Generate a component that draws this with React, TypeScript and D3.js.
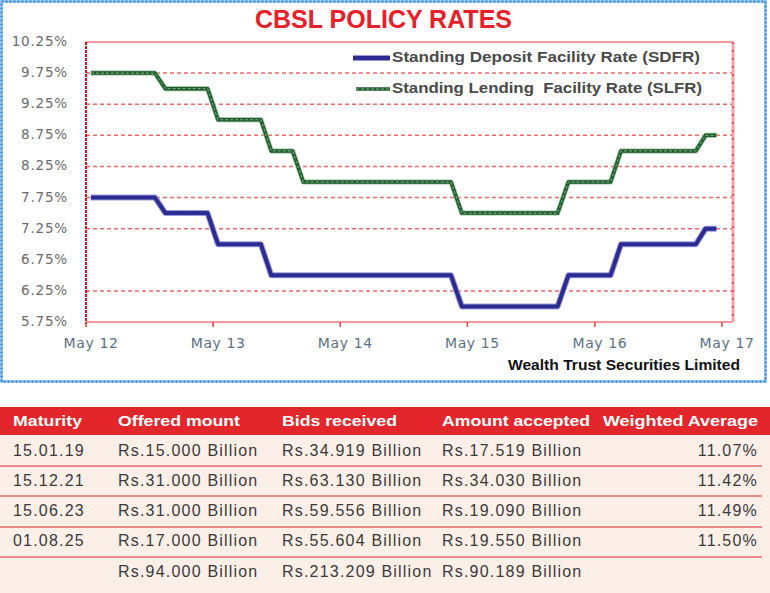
import React from "react";
import * as d3 from "d3";

// ---- Chart data (vertices of monthly policy-rate series) ----
const rateDates = [
  "2012-05-15", "2012-11-15", "2012-12-15", "2013-04-15", "2013-05-15",
  "2013-09-15", "2013-10-15", "2013-12-15", "2014-01-15", "2015-03-15",
  "2015-04-15", "2016-01-15", "2016-02-15", "2016-06-15", "2016-07-15",
  "2017-02-15", "2017-03-15", "2017-04-15",
];
const sdfr = [7.75, 7.75, 7.5, 7.5, 7.0, 7.0, 6.5, 6.5, 6.5, 6.5, 6.0, 6.0, 6.5, 6.5, 7.0, 7.0, 7.25, 7.25];
const slfr = [9.75, 9.75, 9.5, 9.5, 9.0, 9.0, 8.5, 8.5, 8.0, 8.0, 7.5, 7.5, 8.0, 8.0, 8.5, 8.5, 8.75, 8.75];

const yTicks = [10.25, 9.75, 9.25, 8.75, 8.25, 7.75, 7.25, 6.75, 6.25, 5.75];
const gridLevels = [9.75, 9.25, 8.75, 8.25, 7.75, 7.25, 6.25];
const xTickDates = ["2012-05-01", "2013-05-01", "2014-05-01", "2015-05-01", "2016-05-01", "2017-05-01"];
const xTickLabels = ["May 12", "May 13", "May 14", "May 15", "May 16", "May 17"];

const legendLabels = ["Standing Deposit Facility Rate (SDFR)", "Standing Lending\u00a0\u00a0Facility Rate (SLFR)"];

// ---- Table data ----
const tableHeaders = ["Maturity", "Offered mount", "Bids received", "Amount accepted", "Weighted Average"];
const maturity = ["15.01.19", "15.12.21", "15.06.23", "01.08.25", ""];
const offered = ["Rs.15.000 Billion", "Rs.31.000 Billion", "Rs.31.000 Billion", "Rs.17.000 Billion", "Rs.94.000 Billion"];
const bids = ["Rs.34.919 Billion", "Rs.63.130 Billion", "Rs.59.556 Billion", "Rs.55.604 Billion", "Rs.213.209 Billion"];
const accepted = ["Rs.17.519 Billion", "Rs.34.030 Billion", "Rs.19.090 Billion", "Rs.19.550 Billion", "Rs.90.189 Billion"];
const weighted = ["11.07%", "11.42%", "11.49%", "11.50%", ""];

const W = 770;
const H = 593;
const plot = { left: 86, right: 733, top: 42, bottom: 322 };

export default function App() {
  const parse = d3.utcParse("%Y-%m-%d");
  const x = d3
    .scaleUtc()
    .domain([parse("2012-05-01")!, parse("2017-05-01")!])
    .range([86, 722]);
  const y = d3.scaleLinear().domain([5.75, 10.25]).range([plot.bottom, plot.top]);

  const pts = rateDates.map((d, i) => ({ d: parse(d)!, a: sdfr[i], b: slfr[i] }));
  const lineA = d3.line<any>().x((p) => x(p.d)).y((p) => y(p.a));
  const lineB = d3.line<any>().x((p) => x(p.d)).y((p) => y(p.b));
  const pathA = lineA(pts) || "";
  const pathB = lineB(pts) || "";

  const xTicks = xTickDates.map((d, i) => ({ pos: x(parse(d)!), label: xTickLabels[i] }));

  const colX = [13, 118, 282, 442];
  const headerWidths = [69, 122, 115, 148, 155];
  const headerX = [13, 118, 282, 442, 603];
  const rowY = [452, 482, 512, 542, 573];
  const sepY = [466, 496, 527, 557];
  const rows = maturity.map((m, i) => [m, offered[i], bids[i], accepted[i]]);

  const sans = "'Liberation Sans', Arial, sans-serif";
  const dv = "'DejaVu Sans', sans-serif";

  return (
    <svg
      width={W}
      height={H}
      viewBox={`0 0 ${W} ${H}`}
      style={{ position: "absolute", left: 0, top: 0, background: "#fff" }}
    >
      {/* chart frame */}
      <rect x={0} y={0} width={W} height={H} fill="#fff" />
      <rect x={1.5} y={1.5} width={764} height={380} fill="#fff" stroke="#9fcaf0" strokeWidth={3} />
      <rect x={1.5} y={1.5} width={764} height={380} fill="none" stroke="#2f86d2" strokeWidth={2} strokeDasharray="2,2" />

      {/* title */}
      <text
        x={255}
        y={28}
        fill="#e8202a"
        fontFamily={sans}
        fontWeight="bold"
        fontSize={26}
        textLength={257}
        lengthAdjust="spacingAndGlyphs"
      >
        CBSL POLICY RATES
      </text>

      {/* grid lines */}
      {gridLevels.map((v) => (
        <line
          key={"g" + v}
          x1={plot.left}
          x2={plot.right}
          y1={y(v)}
          y2={y(v)}
          stroke="#f06a6a"
          strokeWidth={1.5}
          strokeDasharray="4,3"
        />
      ))}
      {/* top & bottom borders */}
      <line x1={plot.left} x2={plot.right} y1={plot.top} y2={plot.top} stroke="#f59a9a" strokeWidth={2} />
      <line x1={plot.left} x2={plot.right} y1={plot.bottom} y2={plot.bottom} stroke="#f59a9a" strokeWidth={2} />
      {/* right border */}
      <line x1={plot.right} x2={plot.right} y1={plot.top} y2={plot.bottom} stroke="#f7a4a4" strokeWidth={3} />
      <line x1={plot.right} x2={plot.right} y1={plot.top} y2={plot.bottom} stroke="#e03a3a" strokeWidth={1.5} strokeDasharray="2,6" />
      {/* left axis */}
      <line x1={plot.left} x2={plot.left} y1={plot.top} y2={plot.bottom + 2} stroke="#e01010" strokeWidth={2} strokeDasharray="3,1" />

      {/* x ticks */}
      {xTicks.map((t) => (
        <line
          key={"t" + t.label}
          x1={t.pos}
          x2={t.pos}
          y1={plot.bottom}
          y2={plot.bottom + 5}
          stroke="#e04040"
          strokeWidth={1.5}
        />
      ))}
      <g fill="#5a7283" fontFamily={dv} fontSize={14}>
        {xTicks.map((t) => (
          <text key={"l" + t.label} x={t.pos + 5} y={348} textAnchor="middle" letterSpacing={0.6}>
            {t.label}
          </text>
        ))}
      </g>

      {/* y tick labels */}
      {yTicks.map((v) => (
        <text
          key={"y" + v}
          x={68}
          y={y(v)}
          textAnchor="end"
          dominantBaseline="middle"
          fill="#6b6b6b"
          fontFamily={dv}
          fontSize={13.5}
          letterSpacing={0.8}
        >
          {v.toFixed(2)}%
        </text>
      ))}

      {/* series */}
      <path d={pathB} fill="none" stroke="#8fbf94" strokeWidth={5} strokeLinejoin="round" />
      <path d={pathB} fill="none" stroke="#1e5a2c" strokeWidth={3.5} strokeLinejoin="round" />
      <path d={pathB} fill="none" stroke="#7fb58a" strokeWidth={1} strokeDasharray="3,2" strokeLinejoin="round" />
      <path d={pathA} fill="none" stroke="#9a9ada" strokeWidth={6} strokeLinejoin="round" />
      <path d={pathA} fill="none" stroke="#2b2b92" strokeWidth={4} strokeLinejoin="round" />

      {/* legend */}
      <line x1={353} x2={390} y1={58} y2={58} stroke="#9a9ada" strokeWidth={6} />
      <line x1={353} x2={390} y1={58} y2={58} stroke="#2b2b92" strokeWidth={4} />
      <line x1={356} x2={390} y1={89} y2={89} stroke="#1e5a2c" strokeWidth={3.5} />
      <line x1={356} x2={390} y1={89} y2={89} stroke="#7fb58a" strokeWidth={1} strokeDasharray="3,2" />
      {legendLabels.map((t, i) => (
        <text
          key={"lg" + i}
          x={392}
          y={[58, 89][i]}
          dominantBaseline="middle"
          fill="#4a4a4a"
          fontFamily={sans}
          fontWeight="bold"
          fontSize={14}
          textLength={[308, 310][i]}
          lengthAdjust="spacingAndGlyphs"
        >
          {t}
        </text>
      ))}

      {/* source */}
      <text
        x={508}
        y={366}
        dominantBaseline="middle"
        fill="#111"
        fontFamily={sans}
        fontWeight="bold"
        fontSize={15}
        textLength={232}
        lengthAdjust="spacingAndGlyphs"
      >
        Wealth Trust Securities Limited
      </text>

      {/* table */}
      <rect x={0} y={407} width={W} height={28} fill="#e3262c" />
      <rect x={0} y={435} width={W} height={H - 435} fill="#fcefe8" />
      {sepY.map((sy) => (
        <line key={"s" + sy} x1={0} x2={762} y1={sy} y2={sy} stroke="#e86a6a" strokeWidth={1.5} />
      ))}
      {tableHeaders.map((h, i) => (
        <text
          key={"h" + i}
          x={headerX[i]}
          y={422}
          dominantBaseline="middle"
          fill="#fff"
          fontFamily={sans}
          fontWeight="bold"
          fontSize={15}
          textLength={headerWidths[i]}
          lengthAdjust="spacingAndGlyphs"
        >
          {h}
        </text>
      ))}
      {rows.map((r, ri) => (
        <g key={"r" + ri}>
          {r.map((c, ci) =>
            c ? (
              <text
                key={"c" + ci}
                x={colX[ci]}
                y={rowY[ri]}
                dominantBaseline="middle"
                fill="#3a3a3a"
                fontFamily={sans}
                fontSize={16}
                letterSpacing={1.2}
              >
                {c}
              </text>
            ) : null
          )}
          {weighted[ri] ? (
            <text
              x={758}
              y={rowY[ri]}
              textAnchor="end"
              dominantBaseline="middle"
              fill="#3a3a3a"
              fontFamily={sans}
              fontSize={16}
              letterSpacing={1.2}
            >
              {weighted[ri]}
            </text>
          ) : null}
        </g>
      ))}
    </svg>
  );
}
